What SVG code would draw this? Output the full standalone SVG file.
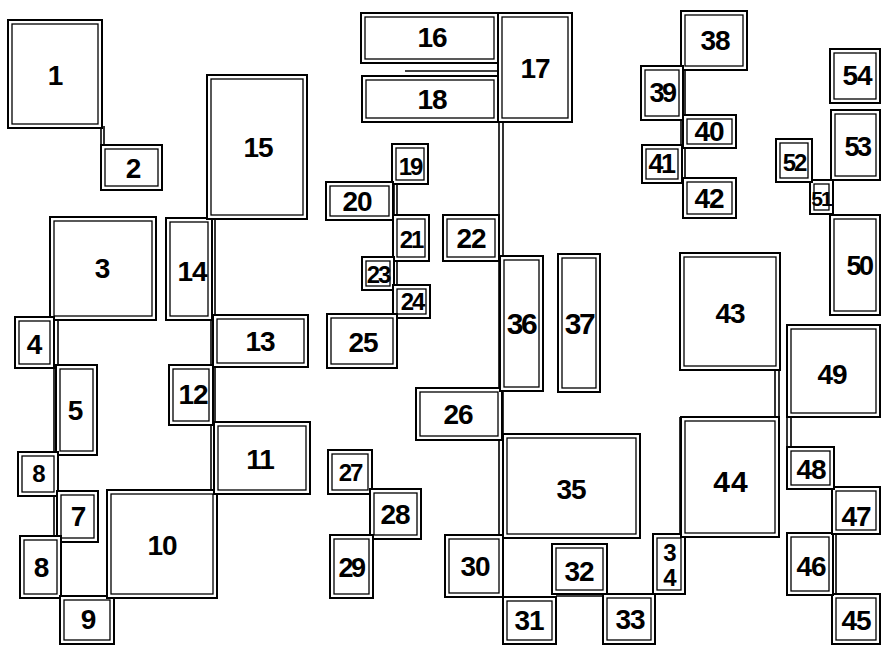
<svg xmlns="http://www.w3.org/2000/svg" width="881" height="645" viewBox="0 0 881 645">
<style>
.o{fill:#fff;stroke:#000;stroke-width:2}
.i{fill:none;stroke:#000;stroke-width:1.3}
.c{fill:none;stroke:#000;stroke-width:1.6}
text{font-family:"Liberation Sans",Arial,sans-serif;font-weight:700;font-size:28px;text-anchor:middle;dominant-baseline:central;fill:#000;letter-spacing:-1px}
.s{font-size:24px;letter-spacing:-2px}
.m{font-size:27px;letter-spacing:-2.5px}
.xs{font-size:21px;letter-spacing:-2px}
.n{letter-spacing:-2.5px;font-size:30px}
.w{font-size:30px;letter-spacing:1px}
</style>
<rect width="881" height="645" fill="#fff"/>
<g id="connectors">
<path class="c" d="M101,126V146M104,126V146M54,319V598M58,319V598M211,218V495M215,218V495M394,183V318M397,183V318M405,71H498M499,122V597M503,122V597M680,417V534M684,417V534M775,370V417M779,370V417M787,417V447M791,417V447M832,489V594M836,489V594M681,70V180M685,70V180M812,180H831M556,596H603"/>
</g>
<g id="n1"><rect class="o" x="8" y="20" width="94" height="108"/><rect class="i" x="12" y="24" width="86" height="100"/><text x="55" y="75">1</text></g>
<g id="n2"><rect class="o" x="101" y="145" width="61" height="45"/><rect class="i" x="105" y="149" width="53" height="37"/><text x="133" y="168">2</text></g>
<g id="n3"><rect class="o" x="50" y="217" width="106" height="103"/><rect class="i" x="54" y="221" width="98" height="95"/><text x="102" y="268">3</text></g>
<g id="n4"><rect class="o" x="15" y="317" width="39" height="51"/><rect class="i" x="19" y="321" width="31" height="43"/><text x="34" y="344">4</text></g>
<g id="n5"><rect class="o" x="56" y="365" width="41" height="90"/><rect class="i" x="60" y="369" width="33" height="82"/><text x="75" y="410">5</text></g>
<g id="n8a"><rect class="o" x="18" y="452" width="40" height="44"/><rect class="i" x="22" y="456" width="32" height="36"/><text x="38" y="473" class="s">8</text></g>
<g id="n7"><rect class="o" x="57" y="491" width="41" height="51"/><rect class="i" x="61" y="495" width="33" height="43"/><text x="78" y="516">7</text></g>
<g id="n8b"><rect class="o" x="20" y="536" width="41" height="62"/><rect class="i" x="24" y="540" width="33" height="54"/><text x="41" y="567">8</text></g>
<g id="n9"><rect class="o" x="60" y="596" width="54" height="48"/><rect class="i" x="64" y="600" width="46" height="40"/><text x="88" y="619">9</text></g>
<g id="n10"><rect class="o" x="107" y="490" width="110" height="108"/><rect class="i" x="111" y="494" width="102" height="100"/><text x="162" y="545">10</text></g>
<g id="n11"><rect class="o" x="214" y="422" width="96" height="72"/><rect class="i" x="218" y="426" width="88" height="64"/><text x="260" y="459">11</text></g>
<g id="n12"><rect class="o" x="169" y="365" width="44" height="60"/><rect class="i" x="173" y="369" width="36" height="52"/><text x="193" y="394">12</text></g>
<g id="n13"><rect class="o" x="213" y="315" width="95" height="52"/><rect class="i" x="217" y="319" width="87" height="44"/><text x="260" y="341">13</text></g>
<g id="n14"><rect class="o" x="166" y="218" width="46" height="102"/><rect class="i" x="170" y="222" width="38" height="94"/><text x="192" y="271">14</text></g>
<g id="n15"><rect class="o" x="207" y="75" width="100" height="144"/><rect class="i" x="211" y="79" width="92" height="136"/><text x="258" y="147">15</text></g>
<g id="n16"><rect class="o" x="361" y="13" width="137" height="50"/><rect class="i" x="365" y="17" width="129" height="42"/><text x="432" y="37">16</text></g>
<g id="n17"><rect class="o" x="498" y="13" width="74" height="109"/><rect class="i" x="502" y="17" width="66" height="101"/><text x="535" y="68">17</text></g>
<g id="n18"><rect class="o" x="362" y="76" width="136" height="46"/><rect class="i" x="366" y="80" width="128" height="38"/><text x="432" y="99">18</text></g>
<g id="n19"><rect class="o" x="392" y="144" width="36" height="40"/><rect class="i" x="396" y="148" width="28" height="32"/><text x="410" y="166" class="s">19</text></g>
<g id="n20"><rect class="o" x="326" y="182" width="67" height="38"/><rect class="i" x="330" y="186" width="59" height="30"/><text x="357" y="201">20</text></g>
<g id="n21"><rect class="o" x="393" y="215" width="36" height="46"/><rect class="i" x="397" y="219" width="28" height="38"/><text x="411" y="239" class="s">21</text></g>
<g id="n22"><rect class="o" x="443" y="215" width="56" height="46"/><rect class="i" x="447" y="219" width="48" height="38"/><text x="471" y="238">22</text></g>
<g id="n23"><rect class="o" x="362" y="257" width="32" height="33"/><rect class="i" x="366" y="261" width="24" height="25"/><text x="378" y="274" class="s">23</text></g>
<g id="n24"><rect class="o" x="393" y="285" width="37" height="33"/><rect class="i" x="397" y="289" width="29" height="25"/><text x="412" y="301" class="s">24</text></g>
<g id="n25"><rect class="o" x="327" y="314" width="70" height="54"/><rect class="i" x="331" y="318" width="62" height="46"/><text x="363" y="342">25</text></g>
<g id="n26"><rect class="o" x="416" y="388" width="86" height="52"/><rect class="i" x="420" y="392" width="78" height="44"/><text x="458" y="414">26</text></g>
<g id="n27"><rect class="o" x="328" y="450" width="44" height="44"/><rect class="i" x="332" y="454" width="36" height="36"/><text x="350" y="472" class="s">27</text></g>
<g id="n28"><rect class="o" x="370" y="489" width="51" height="50"/><rect class="i" x="374" y="493" width="43" height="42"/><text x="395" y="514">28</text></g>
<g id="n29"><rect class="o" x="330" y="535" width="43" height="63"/><rect class="i" x="334" y="539" width="35" height="55"/><text x="351" y="568" class="m">29</text></g>
<g id="n30"><rect class="o" x="445" y="535" width="58" height="62"/><rect class="i" x="449" y="539" width="50" height="54"/><text x="475" y="566">30</text></g>
<g id="n31"><rect class="o" x="503" y="597" width="53" height="47"/><rect class="i" x="507" y="601" width="45" height="39"/><text x="529" y="620">31</text></g>
<g id="n32"><rect class="o" x="552" y="544" width="55" height="50"/><rect class="i" x="556" y="548" width="47" height="42"/><text x="579" y="571">32</text></g>
<g id="n33"><rect class="o" x="603" y="594" width="52" height="50"/><rect class="i" x="607" y="598" width="44" height="42"/><text x="630" y="619">33</text></g>
<g id="n34"><rect class="o" x="653" y="534" width="32" height="60"/><rect class="i" x="657" y="538" width="24" height="52"/><text x="669" y="552" class="s">3</text><text x="669" y="577" class="s">4</text></g>
<g id="n35"><rect class="o" x="503" y="434" width="137" height="104"/><rect class="i" x="507" y="438" width="129" height="96"/><text x="571" y="489">35</text></g>
<g id="n36"><rect class="o" x="500" y="256" width="43" height="135"/><rect class="i" x="504" y="260" width="35" height="127"/><text x="521" y="323" class="n">36</text></g>
<g id="n37"><rect class="o" x="558" y="254" width="42" height="138"/><rect class="i" x="562" y="258" width="34" height="130"/><text x="579" y="323" class="n">37</text></g>
<g id="n38"><rect class="o" x="681" y="11" width="66" height="59"/><rect class="i" x="685" y="15" width="58" height="51"/><text x="715" y="40">38</text></g>
<g id="n39"><rect class="o" x="641" y="66" width="42" height="54"/><rect class="i" x="645" y="70" width="34" height="46"/><text x="662" y="93" class="m">39</text></g>
<g id="n40"><rect class="o" x="683" y="115" width="53" height="33"/><rect class="i" x="687" y="119" width="45" height="25"/><text x="709" y="131">40</text></g>
<g id="n41"><rect class="o" x="642" y="145" width="40" height="38"/><rect class="i" x="646" y="149" width="32" height="30"/><text x="661" y="164" class="m">41</text></g>
<g id="n42"><rect class="o" x="683" y="178" width="53" height="40"/><rect class="i" x="687" y="182" width="45" height="32"/><text x="709" y="198">42</text></g>
<g id="n43"><rect class="o" x="680" y="253" width="100" height="117"/><rect class="i" x="684" y="257" width="92" height="109"/><text x="730" y="313">43</text></g>
<g id="n44"><rect class="o" x="681" y="417" width="98" height="120"/><rect class="i" x="685" y="421" width="90" height="112"/><text x="731" y="481" class="w">44</text></g>
<g id="n45"><rect class="o" x="832" y="594" width="48" height="50"/><rect class="i" x="836" y="598" width="40" height="42"/><text x="856" y="620">45</text></g>
<g id="n46"><rect class="o" x="787" y="533" width="46" height="62"/><rect class="i" x="791" y="537" width="38" height="54"/><text x="811" y="566">46</text></g>
<g id="n47"><rect class="o" x="832" y="487" width="48" height="47"/><rect class="i" x="836" y="491" width="40" height="39"/><text x="856" y="516">47</text></g>
<g id="n48"><rect class="o" x="787" y="447" width="47" height="42"/><rect class="i" x="791" y="451" width="39" height="34"/><text x="811" y="469">48</text></g>
<g id="n49"><rect class="o" x="787" y="325" width="93" height="92"/><rect class="i" x="791" y="329" width="85" height="84"/><text x="832" y="374">49</text></g>
<g id="n50"><rect class="o" x="830" y="215" width="50" height="100"/><rect class="i" x="834" y="219" width="42" height="92"/><text x="859" y="266" class="m">50</text></g>
<g id="n51"><rect class="o" x="810" y="180" width="23" height="34"/><rect class="i" x="814" y="184" width="15" height="26"/><text x="821" y="198" class="xs">51</text></g>
<g id="n52"><rect class="o" x="776" y="139" width="36" height="43"/><rect class="i" x="780" y="143" width="28" height="35"/><text x="794" y="162" class="s">52</text></g>
<g id="n53"><rect class="o" x="831" y="110" width="49" height="70"/><rect class="i" x="835" y="114" width="41" height="62"/><text x="857" y="147" class="m">53</text></g>
<g id="n54"><rect class="o" x="830" y="49" width="50" height="54"/><rect class="i" x="834" y="53" width="42" height="46"/><text x="857" y="75">54</text></g>
</svg>
